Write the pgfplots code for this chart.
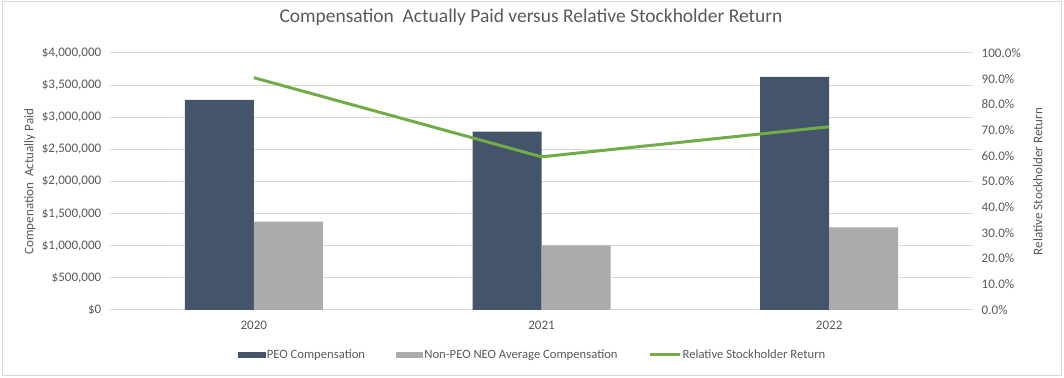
\documentclass[border=0pt]{standalone}
\usepackage{fontspec}
\setmainfont{Carlito}
\usepackage{pgfplots}
\pgfplotsset{compat=1.18}
\definecolor{peo}{HTML}{44546A}
\definecolor{neo}{HTML}{ABABAB}
\definecolor{rsr}{HTML}{70AD47}
\definecolor{txt}{HTML}{595959}
\definecolor{grd}{HTML}{D9D9D9}
\begin{document}
\begin{tikzpicture}
\useasboundingbox (0pt,0pt) rectangle (798pt,283.5pt);
\draw[grd, line width=0.75pt] (1.5pt,1.5pt) rectangle (796pt,282pt);
\begin{axis}[
  at={(82.5pt,51pt)}, anchor=south west,
  scale only axis, width=647.25pt, height=192.75pt,
  xmin=-0.5, xmax=2.5,
  ymin=0, ymax=4000000,
  scaled y ticks=false,
  xtick={0,1,2}, xticklabels={2020,2021,2022},
  ytick={0,500000,1000000,1500000,2000000,2500000,3000000,3500000,4000000},
  yticklabels={{\$0},{\$500,000},{\$1,000,000},{\$1,500,000},{\$2,000,000},{\$2,500,000},{\$3,000,000},{\$3,500,000},{\$4,000,000}},
  axis line style={draw=none},
  major tick length=0pt,
  ymajorgrids, grid style={grd, line width=0.75pt},
  ticklabel style={font=\fontsize{9.8}{11}\selectfont, text=txt},
  yticklabel style={xshift=-3pt},
  xticklabel style={yshift=-4.5pt},
  ylabel={Compenation\ \ Actually Paid},
  ylabel style={at={(axis description cs:-0.0927,0.5)}, anchor=center, rotate=0, font=\fontsize{9.8}{11}\selectfont, text=txt},
  title={Compensation\ \ Actually Paid versus Relative Stockholder Return},
  title style={at={(axis description cs:0.4878,1.109)}, anchor=center, font=\fontsize{14.6}{16}\selectfont, text=txt},
  ybar=0pt, bar width=51.75pt,
]
\addplot[fill=peo, draw=none] coordinates {(0,3270000) (1,2775000) (2,3630000)};
\addplot[fill=neo, draw=none] coordinates {(0,1375000) (1,1005000) (2,1285000)};
\end{axis}
\begin{axis}[
  at={(82.5pt,51pt)}, anchor=south west,
  scale only axis, width=647.25pt, height=192.75pt,
  xmin=-0.5, xmax=2.5, xtick=\empty,
  ymin=0, ymax=100,
  axis y line*=right, axis x line=none,
  axis line style={draw=none},
  major tick length=0pt,
  ytick={0,10,...,100},
  yticklabels={0.0\%,10.0\%,20.0\%,30.0\%,40.0\%,50.0\%,60.0\%,70.0\%,80.0\%,90.0\%,100.0\%},
  ticklabel style={font=\fontsize{9.8}{11}\selectfont, text=txt},
  yticklabel style={xshift=3pt},
  ylabel={Relative Stockholder Return},
  ylabel style={at={(axis description cs:1.0753,0.5)}, anchor=center, rotate=0, font=\fontsize{9.8}{11}\selectfont, text=txt},
  legend columns=3,
  legend style={draw=none, fill=none, at={(axis description cs:0.4896,-0.175)}, anchor=center,
    font=\fontsize{9.5}{11}\selectfont, text=txt,
    nodes={inner sep=1pt},
    /tikz/every even column/.append style={column sep=22pt},
    /tikz/every odd column/.append style={column sep=0pt}},
  legend cell align=left,
]
\addlegendimage{legend image code/.code={\fill[peo] (0pt,-2pt) rectangle (20pt,2pt);}}
\addlegendentry{PEO Compensation}
\addlegendimage{legend image code/.code={\fill[neo] (0pt,-2pt) rectangle (20pt,2pt);}}
\addlegendentry{Non-PEO NEO Average Compensation}
\addplot[rsr, line width=2.25pt, legend image code/.code={\draw[rsr, line width=2.25pt] (0pt,0pt) -- (22.5pt,0pt);}] coordinates {(0,90.4) (1,59.6) (2,71.3)};
\addlegendentry{Relative Stockholder Return}
\end{axis}
\end{tikzpicture}
\end{document}
